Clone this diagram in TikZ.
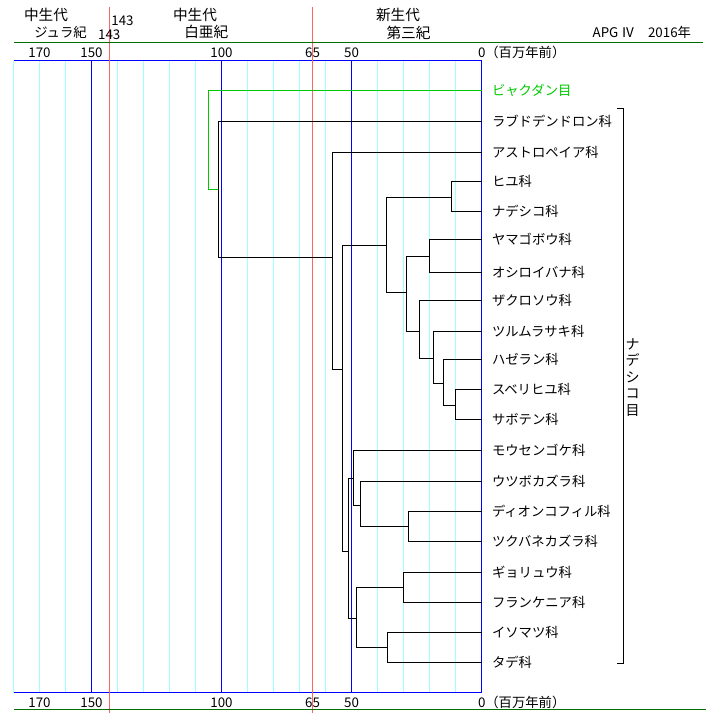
\documentclass[tikz,border=0pt]{standalone}
\usepackage{fontspec}
\setmainfont{Noto Sans CJK JP}
\usepackage{tikz}

\definecolor{gridcyan}{RGB}{160,255,255}
\definecolor{axisblue}{RGB}{0,0,255}
\definecolor{erared}{RGB}{255,100,100}
\definecolor{axisgreen}{RGB}{0,110,0}
\definecolor{sandalgreen}{RGB}{0,200,0}

\begin{document}
\begin{tikzpicture}[x=0.75pt, y=-0.75pt, line width=0.75pt,
  leaf/.style={anchor=west, inner xsep=7.5pt, inner ysep=0pt, font=\fontsize{10}{12}\selectfont},
  tick/.style={anchor=base, inner sep=0pt, font=\fontsize{10}{12}\selectfont},
  era/.style={inner sep=0pt, font=\fontsize{11}{13}\selectfont}]
\useasboundingbox (-0.5,-0.5) rectangle (719.5,723.5);

% time grid, 2.6px per million years, 0 at x=481
\foreach \t in {0,10,...,180}
  \draw[draw=gridcyan] ({481-2.6*\t},60) -- ({481-2.6*\t},692);
\foreach \t in {0,50,100,150}
  \draw[draw=axisblue] ({481-2.6*\t},60) -- ({481-2.6*\t},692);
\draw[draw=axisblue] (13,60) -- (481,60);
\draw[draw=axisblue] (13,692) -- (481,692);
\foreach \t in {65,143}
  \draw[draw=erared] ({481-2.6*\t},7) -- ({481-2.6*\t},712);
\draw[draw=axisgreen] (13,42) -- (702,42);
\draw[draw=axisgreen] (13,709) -- (705,709);

% scale labels
\foreach \t in {170,150,100,65,50} {
  \node[tick] (top\t) at ({481-2.6*\t},57) {\t};
  \node[tick] (bot\t) at ({481-2.6*\t},707) {\t};
}
\node[tick, anchor=base west] (top0) at (477,57) {0（百万年前）};
\node[tick, anchor=base west] (bot0) at (477,707) {0（百万年前）};

% eras
\node[era] (jura1) at (45.5,14) {中生代};
\node[era, font=\fontsize{10}{12}\selectfont] (jura2) at (60,31.7) {ジュラ紀};
\node[tick, anchor=center] (ma143a) at (122,20) {143};
\node[tick, anchor=center] (ma143b) at (108.7,34) {143};
\node[era] (haku1) at (194.5,14) {中生代};
\node[era] (haku2) at (205.8,31.7) {白亜紀};
\node[era] (dai1) at (397.5,14) {新生代};
\node[era] (dai2) at (408,32) {第三紀};
\node[tick, anchor=east] (apg) at (691,32) {APG Ⅳ　2016年};

% families
\node[leaf, text=sandalgreen] (byaku) at (481,90) {ビャクダン目};
\node[leaf] (rabu) at (481,121) {ラブドデンドロン科};
\node[leaf] (astro) at (481,152) {アストロペイア科};
\node[leaf] (hiyu) at (481,181) {ヒユ科};
\node[leaf] (nade) at (481,211) {ナデシコ科};
\node[leaf] (yamago) at (481,238.7) {ヤマゴボウ科};
\node[leaf] (oshiroi) at (481,272.3) {オシロイバナ科};
\node[leaf] (zakuro) at (481,300.3) {ザクロソウ科};
\node[leaf] (tsuru) at (481,331.3) {ツルムラサキ科};
\node[leaf] (haze) at (481,359) {ハゼラン科};
\node[leaf] (suberi) at (481,389.3) {スベリヒユ科};
\node[leaf] (saboten) at (481,419.3) {サボテン科};
\node[leaf] (mousen) at (481,450.3) {モウセンゴケ科};
\node[leaf] (utsubo) at (481,481.3) {ウツボカズラ科};
\node[leaf] (dion) at (481,511.3) {ディオンコフィル科};
\node[leaf] (tsuku) at (481,541.3) {ツクバネカズラ科};
\node[leaf] (gyoryu) at (481,572.3) {ギョリュウ科};
\node[leaf] (furan) at (481,602.3) {フランケニア科};
\node[leaf] (isomatsu) at (481,632) {イソマツ科};
\node[leaf] (tade) at (481,662) {タデ科};

% branch points
\coordinate (sandal) at (208,189);
\coordinate (root) at (218,189);
\coordinate (A) at (332,257);
\coordinate (B) at (342,369);
\coordinate (C) at (386,245);
\coordinate (D) at (348,551);
\coordinate (E) at (451,197);
\coordinate (F) at (406,292);
\coordinate (G) at (429,256);
\coordinate (H) at (418.7,331);
\coordinate (I) at (432.7,358);
\coordinate (J) at (443,383);
\coordinate (K) at (455.3,405);
\coordinate (L) at (353,478);
\coordinate (M) at (360.3,505);
\coordinate (N) at (408.3,526);
\coordinate (O) at (356.3,618);
\coordinate (P) at (403.3,587);
\coordinate (Q) at (386.7,647);

\draw[sandalgreen] (byaku.west) -| (sandal) -- (root);
\draw (rabu.west) -| (root) |- (A);
\draw (astro.west) -| (A) |- (B);
\draw (C) -| (B) |- (D);
\draw (E) -| (C) |- (F);
\draw (hiyu.west) -| (E) |- (nade.west);
\draw (G) -| (F) |- (H);
\draw (yamago.west) -| (G) |- (oshiroi.west);
\draw (zakuro.west) -| (H) |- (I);
\draw (tsuru.west) -| (I) |- (J);
\draw (haze.west) -| (J) |- (K);
\draw (suberi.west) -| (K) |- (saboten.west);
\draw (L) -| (D) |- (O);
\draw (mousen.west) -| (L) |- (M);
\draw (utsubo.west) -| (M) |- (N);
\draw (dion.west) -| (N) |- (tsuku.west);
\draw (P) -| (O) |- (Q);
\draw (gyoryu.west) -| (P) |- (furan.west);
\draw (isomatsu.west) -| (Q) |- (tade.west);

% order bracket
\draw (616,108) -- (623,108) -- (623,663) -- (616,663);
\node[font=\fontsize{10.5}{12.4}\selectfont, align=center, inner sep=0pt] (nadeshiko) at (632,377) {ナ\\デ\\シ\\コ\\目};
\end{tikzpicture}
\end{document}
